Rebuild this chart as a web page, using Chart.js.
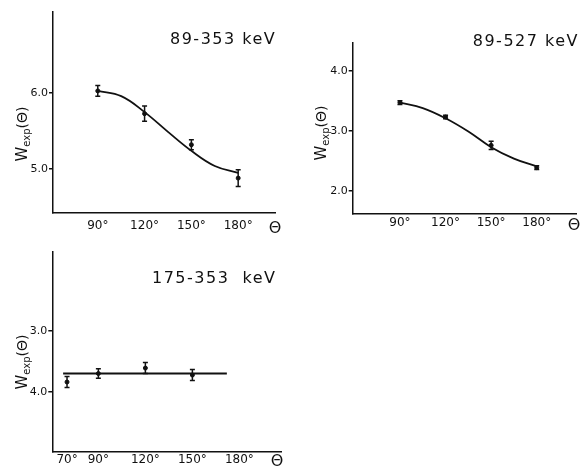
<!DOCTYPE html>
<html>
<head>
<meta charset="utf-8">
<script src="https://cdn.jsdelivr.net/npm/chart.js@4.4.0/dist/chart.umd.min.js"></script>
<style>
html, body { margin: 0; padding: 0; background: #fff; width: 581px; height: 471px; overflow: hidden; position: relative; }
canvas { position: absolute; }
.ttl { position: absolute; font-family: "DejaVu Sans", sans-serif; font-size: 16px; line-height: 16px; letter-spacing: 1.5px; color: #111; white-space: pre; }
</style>
</head>
<body>
<canvas id="c1" width="300" height="240" style="left:0;top:0"></canvas>
<canvas id="c2" width="300" height="240" style="left:290px;top:0"></canvas>
<canvas id="c3" width="300" height="240" style="left:0;top:240px"></canvas>
<div class="ttl" style="left:170px;top:31px">89-353 keV</div>
<div class="ttl" style="right:2px;top:33px">89-527 keV</div>
<div class="ttl" style="left:152px;top:270px">175-353  keV</div>
<script>
// panel 1 : 89-353 keV
const angles1 = [90, 120, 150, 180]
const w1 = [6.03, 5.73, 5.32, 4.88]
const err1 = [0.07, 0.10, 0.065, 0.11]
const fitAngles1 = [90, 105, 120, 135, 150, 165, 180]
const fit1 = [6.03, 5.96, 5.75, 5.49, 5.24, 5.04, 4.95]
const xTicks1 = [90, 120, 150, 180]
const yTicks1 = [5.0, 6.0]

// panel 2 : 89-527 keV
const angles2 = [90, 120, 150, 180]
const w2 = [3.47, 3.23, 2.76, 2.39]
const err2 = [0.03, 0.03, 0.07, 0.03]
const fitAngles2 = [90, 105, 120, 135, 150, 165, 180]
const fit2 = [3.47, 3.38, 3.21, 2.99, 2.73, 2.54, 2.41]
const xTicks2 = [90, 120, 150, 180]
const yTicks2 = [2.0, 3.0, 4.0]

// panel 3 : 175-353 keV (axis printed upside down in the original)
const angles3 = [70, 90, 120, 150]
const w3 = [3.84, 3.70, 3.61, 3.725]
const err3 = [0.09, 0.08, 0.09, 0.09]
const fitAngles3 = [67.5, 172]
const fit3 = [3.70, 3.70]
const xTicks3 = [70, 90, 120, 150, 180]
const yTicks3 = [3.0, 4.0]

const ink = '#111'
const font = '"DejaVu Sans", sans-serif'

// error bars drawn through the chart scales
const errorBars = {
    id: 'errorBars',
    afterDatasetsDraw(chart) {
        const ctx = chart.ctx, xs = chart.scales.x, ys = chart.scales.y
        chart.data.datasets.forEach(ds => {
            if (!ds.err) return
            ctx.save()
            ctx.strokeStyle = ink
            ctx.lineWidth = 1.5
            ds.data.forEach((p, i) => {
                const px = xs.getPixelForValue(p.x)
                const y1 = ys.getPixelForValue(p.y - ds.err[i])
                const y2 = ys.getPixelForValue(p.y + ds.err[i])
                ctx.beginPath()
                ctx.moveTo(px, y1); ctx.lineTo(px, y2)
                ctx.moveTo(px - 2.5, y1); ctx.lineTo(px + 2.5, y1)
                ctx.moveTo(px - 2.5, y2); ctx.lineTo(px + 2.5, y2)
                ctx.stroke()
            })
            ctx.restore()
        })
    }
}

// rotated W_exp(Θ) label with subscript
const yTitle = {
    id: 'yTitle',
    afterDraw(chart, args, opts) {
        const ctx = chart.ctx
        const parts = [['W', 15, 0], ['exp', 10, 3], ['(Θ)', 14, 0]]
        ctx.save()
        ctx.translate(opts.x, opts.y)
        ctx.rotate(-Math.PI / 2)
        ctx.fillStyle = ink
        ctx.textBaseline = 'alphabetic'
        let total = 0
        parts.forEach(p => { ctx.font = p[1] + 'px ' + font; total += ctx.measureText(p[0]).width })
        let x = -total / 2
        parts.forEach(p => {
            ctx.font = p[1] + 'px ' + font
            ctx.fillText(p[0], x, 5 + p[2])
            x += ctx.measureText(p[0]).width
        })
        ctx.restore()
    }
}

function makeChart(id, c) {
    return new Chart(document.getElementById(id), {
        type: 'scatter',
        data: {
            datasets: [
                {
                    type: 'line',
                    data: c.fitX.map((x, i) => ({ x: x, y: c.fitY[i] })),
                    borderColor: ink,
                    borderWidth: 1.8,
                    pointRadius: 0,
                    tension: 0.4,
                    fill: false
                },
                {
                    data: c.x.map((x, i) => ({ x: x, y: c.y[i] })),
                    err: c.err,
                    pointRadius: 2,
                    backgroundColor: ink,
                    borderColor: ink
                }
            ]
        },
        options: {
            responsive: false,
            animation: false,
            events: [],
            layout: { padding: { top: c.padTop, right: c.padRight, left: 0, bottom: 0 } },
            plugins: {
                legend: { display: false },
                tooltip: { enabled: false },
                yTitle: { x: c.titleX, y: c.titleY }
            },
            scales: {
                x: {
                    type: 'linear',
                    min: c.xMin,
                    max: c.xMax,
                    // last tick carries the Θ axis name
                    afterBuildTicks: s => { s.ticks = c.xTicks.concat([c.thetaAt]).map(v => ({ value: v })) },
                    afterFit: s => { s.height = c.xH },
                    grid: { display: false, drawTicks: false },
                    border: { color: ink, width: 1.5 },
                    ticks: {
                        autoSkip: false,
                        maxRotation: 0,
                        padding: c.xPad,
                        color: ink,
                        font: ctx => (ctx.tick && ctx.tick.value === c.thetaAt) ? { family: font, size: 16 } : { family: font, size: 12 },
                        callback: v => v === c.thetaAt ? 'Θ' : v + '°'
                    }
                },
                y: {
                    type: 'linear',
                    min: c.yMin,
                    max: c.yMax,
                    reverse: !!c.reverse,
                    afterBuildTicks: s => { s.ticks = c.yTicks.map(v => ({ value: v })) },
                    afterFit: s => { s.width = c.yW },
                    grid: { display: true, drawOnChartArea: false, drawTicks: true, tickLength: 4, color: ink, lineWidth: 1.5 },
                    border: { color: ink, width: 1.5 },
                    ticks: {
                        padding: 1,
                        color: ink,
                        font: { family: font, size: 11 },
                        callback: v => v.toFixed(1)
                    }
                }
            }
        },
        plugins: [errorBars, yTitle]
    })
}

makeChart('c1', {
    x: angles1, y: w1, err: err1, fitX: fitAngles1, fitY: fit1,
    xTicks: xTicks1, yTicks: yTicks1,
    xMin: 61.3, xMax: 203.6, thetaAt: 203.6, yMin: 4.42, yMax: 7.07,
    padTop: 12, padRight: 25, yW: 53, xH: 27, xPad: 6,
    titleX: 22, titleY: 134
})

makeChart('c2', {
    x: angles2, y: w2, err: err2, fitX: fitAngles2, fitY: fit2,
    xTicks: xTicks2, yTicks: yTicks2,
    xMin: 58.9, xMax: 206.3, thetaAt: 204.5, yMin: 1.62, yMax: 4.46,
    padTop: 43, padRight: 13.3, yW: 62.7, xH: 26, xPad: 2,
    titleX: 31, titleY: 133
})

makeChart('c3', {
    x: angles3, y: w3, err: err3, fitX: fitAngles3, fitY: fit3,
    xTicks: xTicks3, yTicks: yTicks3,
    xMin: 60.6, xMax: 207, thetaAt: 204, yMin: 1.69, yMax: 4.99, reverse: true,
    padTop: 11.7, padRight: 18.3, yW: 52.3, xH: 28.3, xPad: 1,
    titleX: 22, titleY: 122
})
</script>
</body>
</html>
